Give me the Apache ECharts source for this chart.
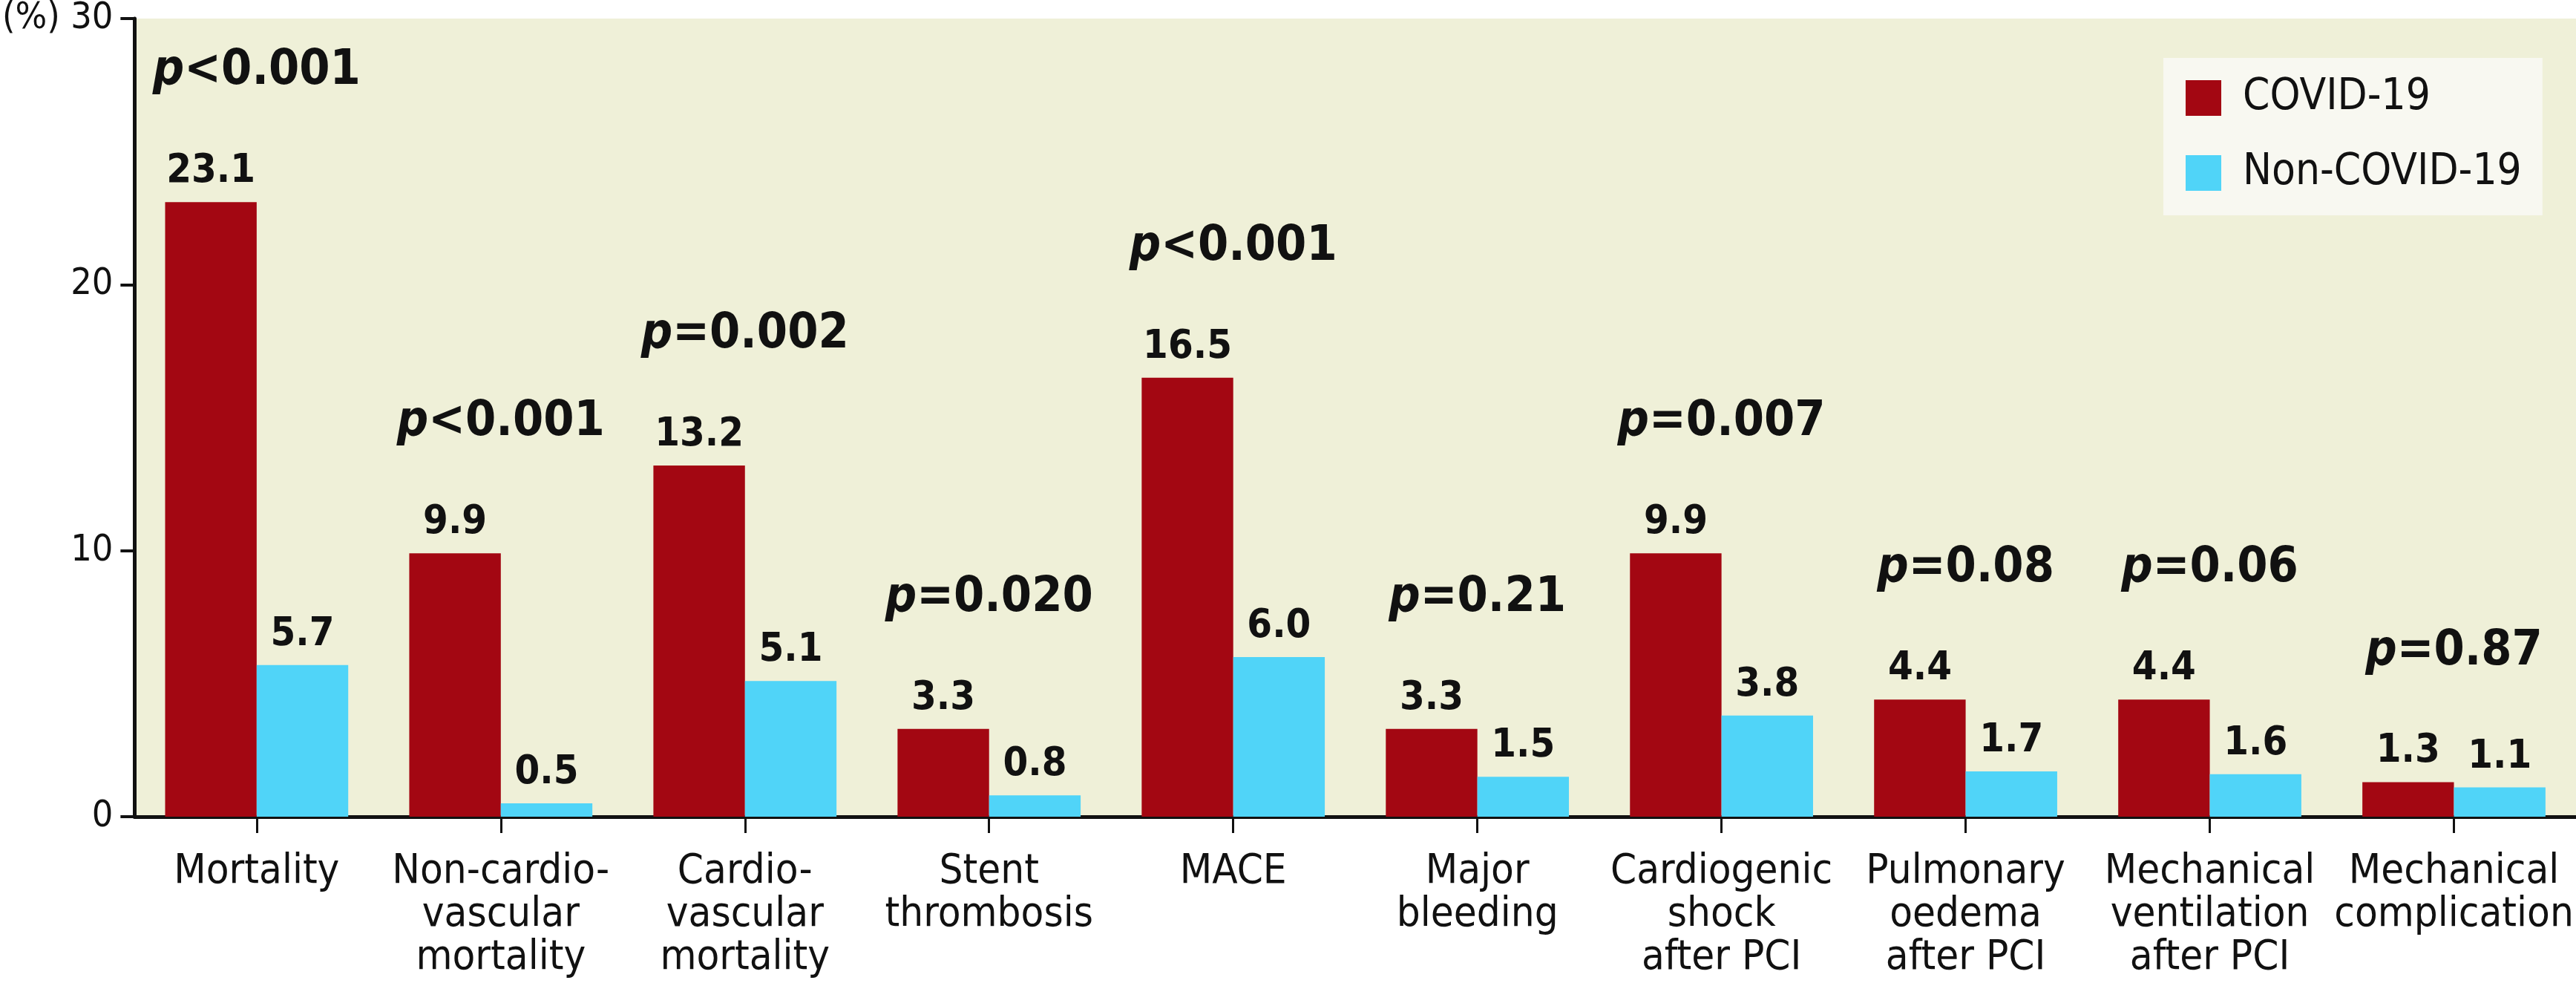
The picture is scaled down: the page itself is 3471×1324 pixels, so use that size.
<!DOCTYPE html>
<html>
<head>
<meta charset="utf-8">
<script src="https://cdn.jsdelivr.net/npm/echarts@6/dist/echarts.min.js"></script>
<style>
html,body{margin:0;padding:0;background:#fff;}
#c{width:3471px;height:1324px;}
</style>
</head>
<body>
<div id="c"></div>
<script>
const categories = [
  'Mortality',
  'Non-cardio-\nvascular\nmortality',
  'Cardio-\nvascular\nmortality',
  'Stent\nthrombosis',
  'MACE',
  'Major\nbleeding',
  'Cardiogenic\nshock\nafter PCI',
  'Pulmonary\noedema\nafter PCI',
  'Mechanical\nventilation\nafter PCI',
  'Mechanical\ncomplication'
];
const covid = [23.1, 9.9, 13.2, 3.3, 16.5, 3.3, 9.9, 4.4, 4.4, 1.3];
const nonCovid = [5.7, 0.5, 5.1, 0.8, 6.0, 1.5, 3.8, 1.7, 1.6, 1.1];
const pValues = ['<0.001', '<0.001', '=0.002', '=0.020', '<0.001', '=0.21', '=0.007', '=0.08', '=0.06', '=0.87'];
const seriesNames = ['COVID-19', 'Non-COVID-19'];
const yMin = 0, yMax = 30, yStep = 10;

const FONT = "'DejaVu Sans Condensed', 'Liberation Sans Narrow', 'Arial Narrow', sans-serif";
const INK = '#111111';
const RED = '#A30712';
const BLUE = '#50D4F8';

const chart = echarts.init(document.getElementById('c'), null, {renderer: 'canvas'});

const pData = categories.map((c, i) => Math.max(covid[i], nonCovid[i]));

const valueLabel = {
  show: true,
  position: 'top',
  distance: 14,
  fontFamily: FONT,
  fontWeight: 'bold',
  fontSize: 54,
  lineHeight: 54,
  color: INK,
  formatter: p => Number(p.value).toFixed(1)
};

chart.setOption({
  animation: false,
  backgroundColor: '#ffffff',
  textStyle: {fontFamily: FONT},
  grid: {
    left: 148, right: 0, top: 18, bottom: 224,
    show: true, backgroundColor: '#EFF0D8', borderWidth: 0,
    containLabel: false
  },
  legend: {
    data: seriesNames,
    orient: 'vertical',
    left: 2915, top: 78,
    backgroundColor: '#F8F8F1',
    padding: [25, 28, 28, 30],
    itemWidth: 48, itemHeight: 48, itemGap: 43,
    icon: 'rect',
    textStyle: {fontFamily: FONT, fontSize: 58, color: INK, padding: [0, 0, 0, 24]}
  },
  xAxis: {
    type: 'category',
    data: categories,
    boundaryGap: true,
    axisLine: {show: true, lineStyle: {color: INK, width: 5}},
    axisTick: {show: true, alignWithLabel: true, length: 22, lineStyle: {color: INK, width: 3}},
    axisLabel: {
      interval: 0, margin: 45,
      fontFamily: FONT, fontSize: 56, lineHeight: 58, color: INK, align: 'center'
    },
    splitLine: {show: false}
  },
  yAxis: {
    type: 'value',
    min: yMin, max: yMax, interval: yStep,
    axisLine: {show: true, lineStyle: {color: INK, width: 5}},
    axisTick: {show: true, length: 19, lineStyle: {color: INK, width: 4}},
    axisLabel: {
      margin: 29, fontFamily: FONT, fontSize: 50, color: INK,
      formatter: v => v === yMax ? '(%) ' + v : String(v)
    },
    splitLine: {show: false}
  },
  series: [
    {
      name: seriesNames[0], type: 'bar', data: covid,
      barGap: '0%', barCategoryGap: '25%',
      itemStyle: {color: RED},
      label: valueLabel
    },
    {
      name: seriesNames[1], type: 'bar', data: nonCovid,
      barGap: '0%', barCategoryGap: '25%',
      itemStyle: {color: BLUE},
      label: valueLabel
    },
    {
      name: 'p', type: 'scatter', data: pData,
      symbolSize: 0.01, itemStyle: {color: INK, opacity: 1},
      silent: true,
      label: {
        show: true,
        position: 'top',
        distance: 143,
        color: INK,
        opacity: 1,
        textBorderWidth: 0,
        formatter: p => '{i|p}{n|' + pValues[p.dataIndex] + '}',
        rich: {
          i: {fontFamily: FONT, fontSize: 66, lineHeight: 66, fontWeight: 'bold', fontStyle: 'italic', color: INK},
          n: {fontFamily: FONT, fontSize: 66, lineHeight: 66, fontWeight: 'bold', color: INK}
        }
      }
    }
  ]
});
</script>
</body>
</html>
